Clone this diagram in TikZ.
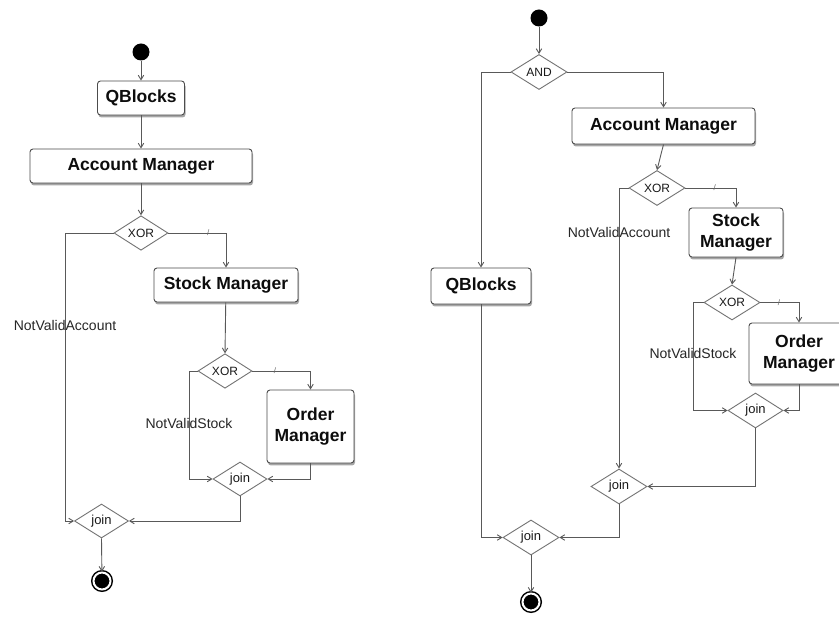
\documentclass[tikz,border=0pt]{standalone}
\usepackage{fontspec}
\setmainfont{Liberation Sans}
\usetikzlibrary{shapes.geometric,arrows.meta,shadows}

\tikzset{
  act/.style={draw=black!70, line width=0.9pt, fill=white, rounded corners=3pt,
    font=\bfseries\fontsize{17.5}{21}\selectfont, text=black!95, align=center, inner sep=0pt,
    drop shadow={shadow xshift=1pt, shadow yshift=-2.5pt, opacity=0.35, fill=black}},
  gate/.style={diamond, draw=black!55, line width=0.9pt, fill=white, inner sep=0pt,
    font=\fontsize{12}{14}\selectfont, text=black!90},
  joingate/.style={gate, font=\fontsize{13}{15}\selectfont},
  small/.style={minimum width=54pt, minimum height=33pt},
  large/.style={minimum width=56pt, minimum height=35pt},
  startdot/.style={circle, fill=black, minimum size=17pt, inner sep=0pt},
  enddot/.style={circle, draw=black, fill=black, line width=1.5pt, double=white,
    double distance=2pt, minimum size=17pt, inner sep=0pt,
    drop shadow={shadow xshift=1pt, shadow yshift=-2pt, opacity=0.3, fill=black}},
  flow/.style={draw=black!65, line width=0.9pt, -{Straight Barb[length=4.5pt,width=5.5pt]}},
  guard/.style={font=\fontsize{14}{16}\selectfont, text=black!85, inner sep=0pt},
  tick/.style={font=\fontsize{8}{8}\selectfont, text=black!60, inner sep=0pt},
}

\begin{document}
\begin{tikzpicture}[x=1pt, y=-1pt]
\clip (0,0) rectangle (839,617);
\fill[white] (0,0) rectangle (839,617);

% ---------- sequential flow ----------
\node[startdot] (s1) at (141,52) {};
\node[act, minimum width=87pt, minimum height=34pt] (qb1) at (141,98) {QBlocks};
\node[act, minimum width=222pt, minimum height=34pt] (am1) at (141,166) {Account Manager};
\node[gate, small] (x1) at (141,233) {XOR};
\node[act, minimum width=144pt, minimum height=34pt] (sm1) at (226,285) {Stock Manager};
\node[gate, small] (x2) at (225,371) {XOR};
\node[act, minimum width=87pt, minimum height=73pt] (om1) at (310.5,426.5) {Order\\Manager};
\node[joingate, small, minimum height=34pt] (j2) at (240,479) {join};
\node[joingate, small, minimum height=34pt] (j1) at (101.5,521) {join};
\node[enddot] (e1) at (102,581) {};
\coordinate (c1) at (65,233);
\coordinate (c2) at (189,371);

\draw[flow] (s1) -- (qb1.north);
\draw[flow] (qb1) -- (am1.north);
\draw[flow] (am1) -- (x1.north);
\draw[flow] (x1.east) -| node[tick, pos=0.345] {/} (sm1.north);
\draw[flow] (sm1) -- (x2.north);
\draw[flow] (x2.east) -| node[tick, pos=0.195] {/} (om1.north);
\draw[flow] (x2.west) -- (c2) |- (j2.west);
\draw[flow] (om1.south) |- (j2.east);
\draw[flow] (j2.south) |- (j1.east);
\draw[flow] (x1.west) -- (c1) |- (j1.west);
\draw[flow] (j1.south) -- (e1);
\node[guard] (g1) at (65,325) {NotValidAccount};
\node[guard] (g2) at (189,423) {NotValidStock};

% ---------- parallel flow ----------
\node[startdot] (s2) at (539,18) {};
\node[gate, large] (and) at (539,72) {AND};
\node[act, minimum width=100pt, minimum height=36pt] (qb2) at (481,286) {QBlocks};
\node[act, minimum width=183pt, minimum height=36pt] (am2) at (663.5,126) {Account Manager};
\node[gate, large] (x3) at (657,188) {XOR};
\node[act, minimum width=94pt, minimum height=49pt] (sm2) at (736,232.5) {Stock\\Manager};
\node[gate, large] (x4) at (732,302.5) {XOR};
\node[act, minimum width=100pt, minimum height=61pt] (om2) at (799,353.5) {Order\\Manager};
\node[joingate, large, minimum width=55pt] (j3) at (755.5,410.5) {join};
\node[joingate, large] (j4) at (619,486.5) {join};
\node[joingate, large] (j5) at (531,537.5) {join};
\node[enddot] (e2) at (531,602) {};
\coordinate (c3) at (693,302.5);

\draw[flow] (s2) -- (and.north);
\draw[flow] (and.west) -| (qb2.north);
\draw[flow] (and.east) -| (am2.north);
\draw[flow] (am2.south) -- (x3.north);
\draw[flow] (x3.east) -| node[tick, pos=0.29] {/} (sm2.north);
\draw[flow] (x3.west) -| (j4.north);
\draw[flow] (sm2.south) -- (x4.north);
\draw[flow] (x4.east) -| node[tick, pos=0.24] {/} (om2.north);
\draw[flow] (x4.west) -- (c3) |- (j3.west);
\draw[flow] (om2.south) |- (j3.east);
\draw[flow] (j3.south) |- (j4.east);
\draw[flow] (j4.south) |- (j5.east);
\draw[flow] (qb2.south) |- (j5.west);
\draw[flow] (j5.south) -- (e2);
\node[guard] (g3) at (619,232) {NotValidAccount};
\node[guard] (g4) at (693,353) {NotValidStock};
\end{tikzpicture}
\end{document}
